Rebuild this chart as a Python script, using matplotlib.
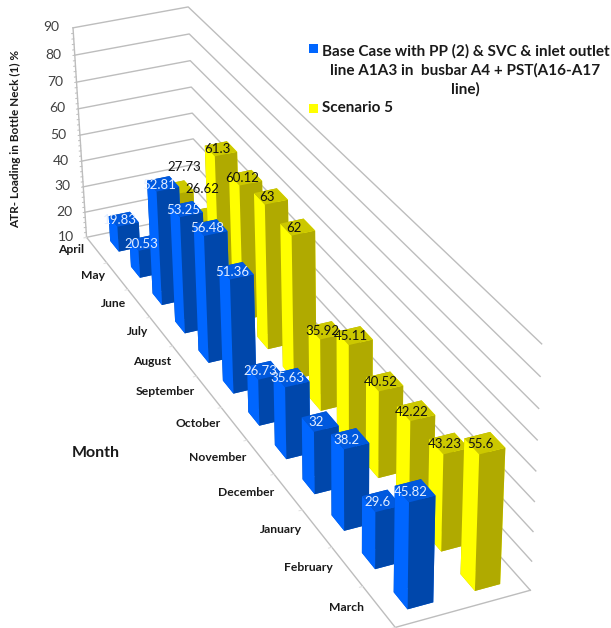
import numpy as np
import matplotlib
matplotlib.use("Agg")
import matplotlib.pyplot as plt
from matplotlib.patches import Rectangle
from mpl_toolkits.mplot3d import proj3d

months = ["April", "May", "June", "July", "August", "September", "October",
          "November", "December", "January", "February", "March"]
base_case = [19.83, 20.53, 52.81, 53.25, 56.48, 51.36, 26.73, 35.63, 32, 38.2, 29.6, 45.82]
scenario_5 = [27.73, 26.62, 61.3, 60.12, 63, 62, 35.92, 45.11, 40.52, 42.22, 43.23, 55.6]
value_ticks = [10, 20, 30, 40, 50, 60, 70, 80, 90]
base_label = "Base Case with PP (2) & SVC & inlet outlet\nline A1A3 in  busbar A4 + PST(A16-A17\nline)"
scenario_label = "Scenario 5"

W, H = 611, 628
FONT = "Lato"
GRID = "#bdbdbd"
INK = "#1a1a1a"

# (months, series, value) -> pixel, used to solve the camera of the 3D box
camera_world = np.array([(0, 0, 10), (0, 0, 50), (0, 0, 90), (0, 2, 90),
                         (12, 2, 90), (12, 2, 50), (12, 2, 10), (12, 0, 10)], float)
camera_pixel = np.array([(86, 237.5), (81, 135), (72.7, 27.7), (188, 7),
                         (541, 344), (537, 471), (530, 590), (395, 627.5)], float)


def solve_projection(world, pixel):
    rows = []
    for (x, y, z), (u, v) in zip(world, pixel):
        p = [x / 12, y / 2, z / 90, 1]
        rows.append(p + [0, 0, 0, 0] + [-u / 600 * c for c in p])
        rows.append([0, 0, 0, 0] + p + [-v / 600 * c for c in p])
    cam = np.linalg.svd(np.array(rows))[2][-1].reshape(3, 4)
    cam = cam @ np.diag([1 / 12, 1 / 2, 1 / 90, 1])
    cam = cam / (cam[2] @ [6, 1, 50, 1])
    depth = [-1 / 12, 1 / 2, -0.5 / 90, 3]
    return np.array([cam[0] * 600, cam[1] * 600, depth, cam[2]])


fig = plt.figure(figsize=(W / 100, H / 100), dpi=100)
# the 3D axes force a square box, so make it cover the whole figure
ax = fig.add_axes([(W - H) / 2 / W, 0, H / W, 1], projection="3d", proj_type="ortho")
ax.set_axis_off()
ax.computed_zorder = False
proj = solve_projection(camera_world, camera_pixel)
ax.get_proj = lambda: proj
ax.viewLim.intervalx = ((W - H) / 2, (W + H) / 2)
ax.viewLim.intervaly = (H, 0)


def label(x, y, z, s, dx=0, dy=0, **kw):
    u, v, _ = proj3d.proj_transform(x, y, z, proj)
    ax.text2D(u + dx, v + dy, s, transform=ax.transData, va="center", family=FONT,
              zorder=10, **kw)


# walls and floor edges
for v in value_ticks:
    ax.plot([0, 0, 12], [0, 2, 2], [v, v, v], color=GRID, lw=1, zorder=1)
    label(-0.1, -0.16, v, str(v), dx=-2, ha="right", fontsize=10, color="#404040")
ax.plot([0, 12, 12], [0, 0, 2], [10, 10, 10], color=GRID, lw=1, zorder=1)
ax.plot([0, 0], [0, 0], [10, 90], color=GRID, lw=1, zorder=1)
for v in range(10, 90, 2):
    ax.plot([0, 0], [0, -0.03], [v, v], color=GRID, lw=0.7, zorder=1)
for i in range(13):
    ax.plot([i, i], [0, -0.05], [10, 10], color="#e0e0e0", lw=0.7, zorder=1)

# bars: faces are -z, +z, -y, +y, -x, +x
bar_dx, bar_dy = 0.42, 0.38
series = [
    (scenario_5, 1.32, ["#CCC800"] * 2 + ["#FFFF00"] * 2 + ["#B0AA00"] * 2, "#111111", 3),
    (base_case, 0.32, ["#0059DE"] * 2 + ["#0066FF"] * 2 + ["#0047AB"] * 2, "#E4EEFF", 4),
]
# two labels of the back row sit clear of the bars in front of them
label_nudge = {(1.32, 0): (9, -21), (1.32, 1): (5, -27)}
for values, y0, colors, label_color, zo in series:
    for i, val in enumerate(values):
        x0 = i + 0.5 - bar_dx / 2
        ax.bar3d(x0, y0, 10, bar_dx, bar_dy, val - 10, color=colors, shade=False,
                 linewidth=0.3, zorder=zo)
        nx, ny = label_nudge.get((y0, i), (0, 0))
        label(i + 0.5, y0 + bar_dy / 2 - 0.06, val, f"{val:g}", dx=nx, dy=ny, ha="center",
              fontsize=9.5, color=label_color)

for i, m in enumerate(months):
    label(i + 0.5, -0.22, 10, m, dy=-3, ha="right", fontsize=8.7, weight="bold", color=INK)


def px(x, y):
    return x / W, 1 - y / H


fig.text(*px(16, 139), "ATR- Loading in Bottle Neck (1) %", rotation=90, ha="center",
         va="center", fontsize=8.5, family=FONT, weight="bold", color=INK)
fig.text(*px(96, 453), "Month", ha="center", va="center", fontsize=11.5, family=FONT,
         weight="bold", color=INK)

# legend
for y, c in [(49, "#0066FF"), (109, "#FFFF00")]:
    fig.add_artist(Rectangle(px(309, y + 4), 9 / W, 9 / H, transform=fig.transFigure,
                             facecolor=c, edgecolor="none"))
fig.text(*px(465.5, 70), base_label, ha="center", va="center", multialignment="center",
         fontsize=11, family=FONT, weight="bold", color=INK, linespacing=1.4)
fig.text(*px(322, 108), scenario_label, ha="left", va="center", fontsize=11,
         family=FONT, weight="bold", color=INK)

fig.savefig("out.png", dpi=100)
